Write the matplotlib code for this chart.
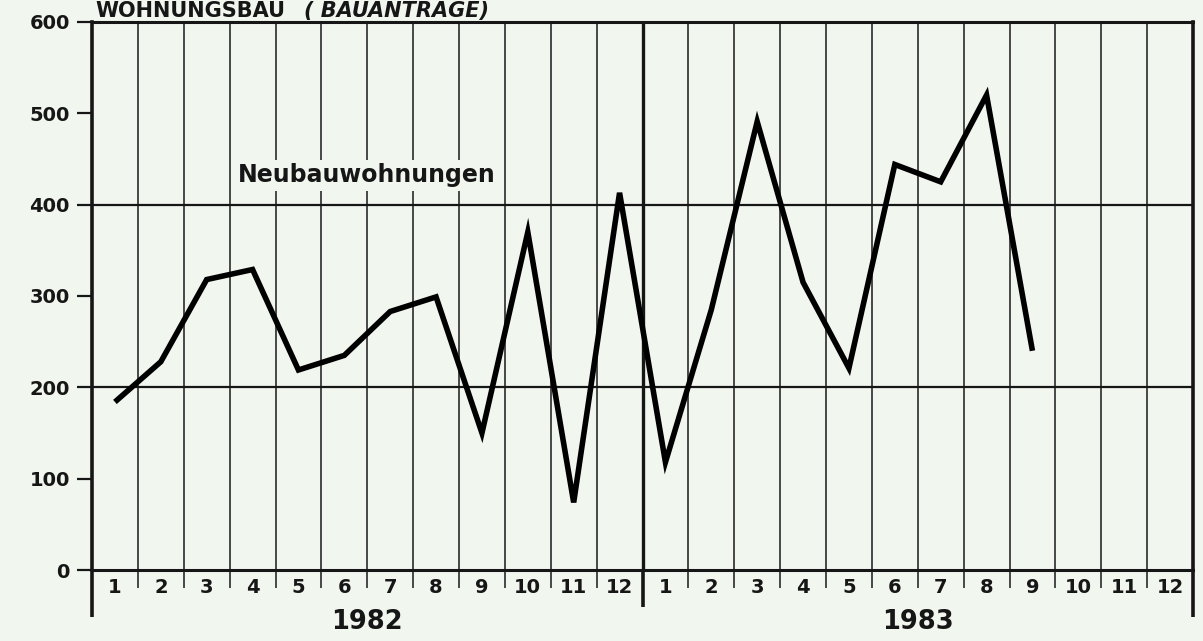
import matplotlib
matplotlib.use("Agg")
import matplotlib.pyplot as plt
import numpy as np

# ---- data ----
months = ["1", "2", "3", "4", "5", "6", "7", "8", "9", "10", "11", "12"]
years = ["1982", "1983"]
values_1982 = [184, 228, 318, 329, 219, 235, 283, 299, 150, 370, 74, 413]
values_1983 = [118, 285, 491, 315, 221, 444, 425, 520, 240]
series_label = "Neubauwohnungen"
title_main = "WOHNUNGSBAU"
title_sub = "( BAUANTRÄGE)"
y_ticks = [0, 100, 200, 300, 400, 500, 600]

BG = "#f1f6ef"
INK = "#161616"
FONT = "DejaVu Sans"

W, H = 1203, 641
fig = plt.figure(figsize=(W / 100, H / 100), dpi=100, facecolor=BG)
left, right, top, bottom = 92, 1193, 22, 570
ax = fig.add_axes([left / W, 1 - bottom / H, (right - left) / W, (bottom - top) / H])
ax.set_facecolor(BG)

n_months = len(months) * len(years)
ax.set_xlim(0, n_months)
ax.set_ylim(0, 600)

# vertical month grid lines
for b in range(1, n_months):
    if b % len(months) == 0:
        ax.axvline(b, color=INK, lw=2.4, zorder=1)
    else:
        ax.axvline(b, color="#3a3a3a", lw=1.3, zorder=1)
# horizontal grid lines
for yv in [200, 400]:
    ax.axhline(yv, color=INK, lw=1.6, zorder=1)

for s in ["left", "right"]:
    ax.spines[s].set_linewidth(2.6)
    ax.spines[s].set_color(INK)
for s in ["top", "bottom"]:
    ax.spines[s].set_linewidth(2.2)
    ax.spines[s].set_color(INK)

# y ticks
ax.set_yticks(y_ticks)
ax.set_yticklabels([str(v) for v in y_ticks], fontsize=14, fontweight="bold",
                   family=FONT, color=INK)
ax.tick_params(axis="y", direction="out", length=11, width=1.6, color=INK, pad=5)

# x: major ticks at month boundaries (no labels), minor ticks at centres (labels)
ax.set_xticks(np.arange(0, n_months + 1))
ax.set_xticklabels([])
ax.tick_params(axis="x", which="major", direction="out", length=13, width=1.3, color="#3a3a3a")
centres = np.arange(n_months) + 0.5
ax.set_xticks(centres, minor=True)
ax.set_xticklabels(months * len(years), minor=True, fontsize=14, fontweight="bold",
                   family=FONT, color=INK)
ax.tick_params(axis="x", which="minor", length=0, pad=6)

# longer extensions at start, year divider and end
tr = ax.get_xaxis_transform()
for b, depth in [(0, -0.086), (len(months), -0.068), (n_months, -0.086)]:
    ax.plot([b, b], [0, depth], transform=tr, color=INK, lw=2.6, clip_on=False,
            solid_capstyle="butt")

# year labels
for i, yr in enumerate(years):
    ax.text(i * len(months) + len(months) / 2, -0.095, yr, transform=tr,
            ha="center", va="center", fontsize=18.5, fontweight="bold",
            family=FONT, color=INK)

# data line
vals = values_1982 + values_1983
ax.plot(centres[:len(vals)], vals, color="black", lw=4.0, solid_joinstyle="miter",
        solid_capstyle="butt", zorder=3)

# series label
ax.text(6.0, 432, series_label, ha="center", va="center", fontsize=17,
        fontweight="bold", family=FONT, color=INK, zorder=2,
        bbox=dict(boxstyle="square,pad=0.15", fc=BG, ec="none"))

# title at the top edge
fig.text(95 / W, 1 - 17 / H, title_main, ha="left", va="baseline", fontsize=15,
         fontweight="bold", family=FONT, color=INK)
fig.text(304 / W, 1 - 17 / H, title_sub, ha="left", va="baseline", fontsize=15,
         fontweight="bold", style="italic", family=FONT, color=INK)

fig.savefig("out.png", dpi=100, facecolor=BG)
